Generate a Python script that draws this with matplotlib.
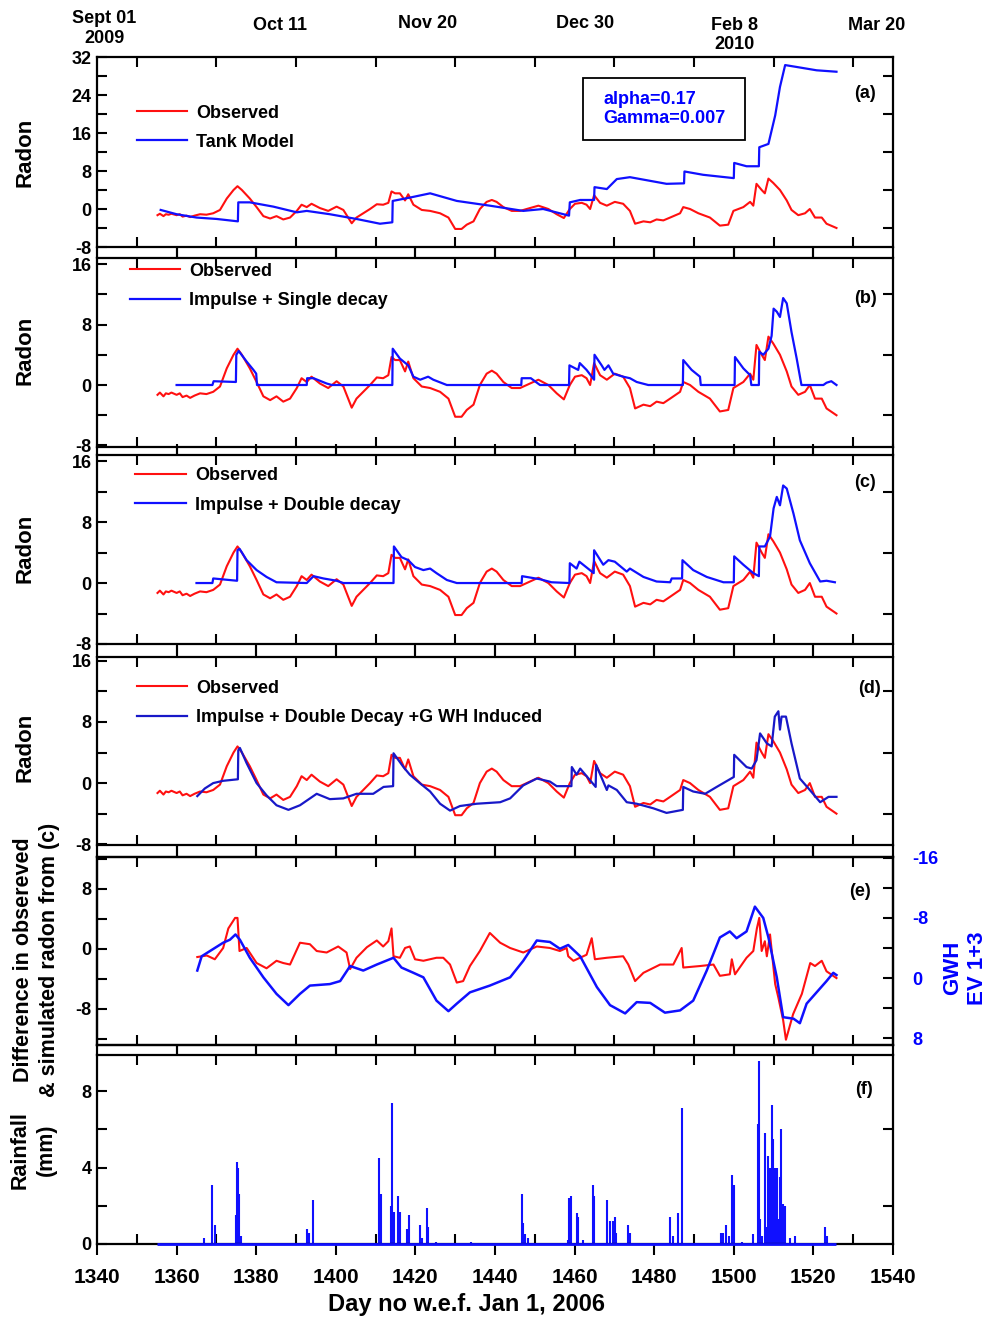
import matplotlib.pyplot as plt
import numpy as np
from matplotlib.ticker import MultipleLocator, FixedLocator
from matplotlib.patches import Rectangle

plt.rcParams['font.family'] = ['Liberation Sans', 'DejaVu Sans']
plt.rcParams['font.weight'] = 'bold'
plt.rcParams['axes.labelweight'] = 'bold'
plt.rcParams['axes.unicode_minus'] = False

# ---- data ----
obs_day = [1355.2, 1355.8, 1356.7, 1357.3, 1358.0, 1358.7, 1360.0, 1360.8, 1361.5, 1362.5,
           1363.4, 1364.5, 1365.9, 1367.5, 1369.2, 1370.9,
           1372.6, 1374.3, 1375.3, 1376.4, 1378.4, 1380.1, 1381.8, 1383.5, 1385.1, 1386.8,
           1388.5, 1390.2, 1391.4, 1392.7, 1393.9, 1396.0, 1398.1, 1400.2, 1401.9, 1403.1,
           1404.0, 1405.2, 1406.9, 1408.6, 1410.3, 1411.9, 1413.2, 1414.0, 1414.9, 1416.1,
           1417.4, 1418.2, 1419.5, 1421.6, 1423.7, 1426.2, 1428.3, 1430.0, 1431.6, 1432.9,
           1434.6, 1436.2, 1437.9, 1439.2, 1440.4, 1442.1, 1444.2, 1446.3, 1448.8, 1450.9,
           1453.4, 1455.5, 1457.3, 1458.8, 1460.1, 1461.8, 1463.0, 1463.9, 1464.9, 1466.4,
           1468.1, 1470.1, 1472.2, 1473.9, 1475.2, 1477.3, 1479.0, 1480.6, 1482.3, 1484.0,
           1486.5, 1487.3, 1489.0, 1491.1, 1494.0, 1496.5, 1498.6, 1499.9, 1502.4, 1504.1,
           1504.9, 1505.7, 1507.0, 1507.8, 1508.7, 1509.9, 1511.6, 1513.3, 1514.5, 1516.2,
           1517.9, 1519.1, 1520.4, 1522.1, 1523.3, 1525.8]
obs_val = [-1.3, -1.0, -1.5, -1.1, -1.2, -1.0, -1.3, -1.1, -1.6, -1.4,
           -1.7, -1.4, -1.1, -1.2, -0.9, -0.2,
           2.2, 4.0, 4.8, 4.0, 2.2, 0.4, -1.5, -2.0, -1.5, -2.2,
           -1.8, -0.4, 0.9, 0.4, 1.1, 0.2, -0.4, 0.5, -0.2, -1.8,
           -3.0, -1.8, -0.9, 0.0, 1.0, 0.9, 1.3, 3.7, 3.3, 3.3,
           1.8, 3.1, 0.9, -0.2, -0.4, -0.9, -1.8, -4.2, -4.2, -3.3,
           -2.6, 0.0, 1.5, 1.9, 1.5, 0.4, -0.4, -0.4, 0.2, 0.7,
           0.0, -1.1, -1.9, 0.0, 1.1, 1.3, 0.9, 0.0, 2.9, 1.3,
           0.7, 1.5, 1.1, -0.4, -3.1, -2.6, -2.8, -2.2, -2.4, -1.8,
           -0.9, 0.4, 0.0, -0.9, -1.8, -3.5, -3.3, -0.4, 0.4, 1.5,
           0.7, 5.3, 4.0, 3.3, 6.4, 5.5, 4.0, 1.8, -0.2, -1.3,
           -0.9, 0.0, -1.8, -1.8, -3.1, -4.0]

tank_day = [1356.0, 1360.0, 1365.0, 1370.1, 1375.4, 1375.5, 1378.4, 1384.3, 1390.2, 1392.7,
            1398.5, 1405.2, 1411.1, 1414.2, 1414.3, 1418.6, 1423.7, 1430.4, 1438.7, 1447.1,
            1452.1, 1458.6, 1458.8, 1461.4, 1464.9, 1465.0, 1468.1, 1470.6, 1473.9, 1483.1,
            1487.5, 1487.6, 1492.3, 1500.0, 1500.1, 1503.2, 1506.3, 1506.4, 1508.7, 1510.4,
            1511.6, 1512.9, 1515.8, 1520.8, 1525.8]
tank_val = [-0.2, -1.1, -1.8, -2.1, -2.6, 1.4, 1.4, 0.5, -0.7, -0.4,
            -1.1, -2.1, -3.1, -2.8, 1.7, 2.4, 3.3, 1.7, 0.7, -0.4,
            0.0, -1.4, 1.4, 1.9, 1.9, 4.6, 4.2, 6.3, 6.7, 5.3,
            5.4, 7.9, 7.2, 6.5, 9.7, 9.0, 9.0, 13.0, 13.7, 19.7,
            25.7, 30.3, 29.9, 29.2, 28.9]

single_day = [1360.0, 1369.0, 1369.3, 1374.9, 1375.0, 1375.6, 1377.6, 1379.3, 1380.0, 1380.2,
              1392.7, 1392.8, 1394.4, 1397.7, 1399.0, 1414.2, 1414.3, 1416.1, 1418.2, 1419.5,
              1421.2, 1423.2, 1424.5, 1427.9, 1446.6, 1446.7, 1449.0, 1451.3, 1458.6, 1458.7,
              1460.9, 1461.3, 1463.0, 1464.9, 1465.0, 1466.8, 1467.5, 1468.5, 1469.7, 1472.2,
              1473.9, 1475.6, 1478.5, 1487.2, 1487.3, 1489.4, 1491.5, 1491.7, 1500.2, 1500.3,
              1502.4, 1504.1, 1504.4, 1506.3, 1506.4, 1507.4, 1508.7, 1509.5, 1510.0, 1510.8,
              1511.6, 1512.4, 1513.3, 1514.5, 1515.8, 1517.0, 1522.5, 1523.3, 1524.5, 1525.8]
single_val = [0.0, 0.0, 0.5, 0.4, 4.0, 4.5, 3.1, 2.0, 1.5, 0.0,
              0.0, 0.9, 0.9, 0.2, 0.0, 0.0, 4.8, 3.5, 2.6, 1.1,
              0.7, 1.1, 0.7, 0.0, 0.0, 0.9, 0.9, 0.0, 0.0, 2.6,
              2.0, 2.9, 2.0, 0.7, 4.0, 2.6, 2.0, 2.6, 1.5, 1.1,
              0.9, 0.4, 0.0, 0.0, 3.3, 2.0, 1.1, 0.0, 0.0, 3.7,
              2.2, 1.3, 0.0, 0.0, 4.4, 4.0, 4.8, 6.5, 10.1, 9.7,
              9.0, 11.5, 10.8, 7.0, 3.5, 0.0, 0.0, 0.3, 0.5, 0.0]

double_day = [1365.0, 1369.0, 1369.2, 1375.2, 1375.3, 1375.8, 1377.6, 1380.1, 1382.6, 1385.1,
              1392.7, 1394.4, 1396.9, 1400.2, 1401.9, 1414.5, 1414.6, 1416.5, 1418.2, 1419.9,
              1422.0, 1423.7, 1425.3, 1427.9, 1430.4, 1446.7, 1446.8, 1451.3, 1454.2, 1458.7,
              1458.8, 1460.5, 1461.2, 1464.8, 1464.9, 1467.2, 1468.5, 1470.1, 1473.1, 1473.9,
              1477.3, 1480.6, 1484.0, 1484.4, 1487.0, 1487.1, 1489.8, 1493.2, 1497.4, 1500.0,
              1500.1, 1502.4, 1504.9, 1506.3, 1506.4, 1507.8, 1509.1, 1510.0, 1510.8, 1511.6,
              1512.4, 1513.3, 1515.0, 1516.6, 1519.1, 1521.7, 1523.3, 1525.4]
double_val = [0.0, 0.0, 0.6, 0.3, 4.3, 4.5, 3.0, 1.7, 0.8, 0.1,
              0.0, 0.9, 0.6, 0.3, 0.0, 0.0, 4.8, 3.4, 3.0, 2.1,
              1.7, 1.9, 1.3, 0.4, 0.0, 0.0, 0.9, 0.5, 0.1, 0.0,
              2.6, 1.9, 2.8, 1.3, 4.3, 2.4, 3.0, 2.8, 1.5, 1.9,
              0.8, 0.2, 0.1, 0.6, 0.6, 3.0, 1.7, 0.8, 0.1, 0.1,
              3.5, 2.4, 1.3, 0.9, 4.8, 4.8, 6.1, 9.8, 11.3, 10.2,
              12.8, 12.4, 9.1, 5.6, 2.6, 0.2, 0.3, 0.1]

gwh_model_day = [1365.2, 1367.1, 1369.2, 1371.7, 1375.4, 1375.5, 1375.9, 1377.6, 1380.1, 1382.6,
                 1385.1, 1388.1, 1391.0, 1395.2, 1398.5, 1401.9, 1405.2, 1409.4, 1412.0, 1414.4,
                 1414.5, 1417.0, 1418.6, 1421.1, 1423.7, 1426.2, 1428.7, 1431.2, 1435.4, 1441.3,
                 1443.8, 1447.1, 1450.5, 1453.8, 1455.5, 1459.2, 1459.3, 1460.5, 1461.4, 1465.3,
                 1465.4, 1468.1, 1468.5, 1470.6, 1473.1, 1475.6, 1479.8, 1483.1, 1487.2, 1487.3,
                 1489.8, 1492.8, 1495.7, 1500.0, 1500.1, 1503.2, 1504.5, 1505.7, 1506.6, 1508.3,
                 1509.5, 1510.3, 1511.2, 1511.6, 1512.0, 1513.1, 1514.5, 1516.6, 1519.1, 1521.7,
                 1523.8, 1525.8]
gwh_model_val = [-1.7, -0.7, 0.0, 0.3, 0.5, 4.3, 4.6, 2.6, 0.0, -1.6,
                 -2.9, -3.5, -2.9, -1.4, -2.1, -2.0, -1.4, -1.4, -0.5, -0.4,
                 3.9, 2.1, 1.1, 0.0, -1.1, -2.7, -3.6, -3.0, -2.7, -2.5,
                 -2.0, -0.3, 0.6, 0.2, -0.4, -0.4, 2.1, 1.1, 1.9, -0.5,
                 2.4, -0.9, -0.3, -0.9, -2.5, -2.7, -3.3, -3.9, -3.5, -0.5,
                 -1.1, -1.4, -0.5, 0.8, 3.7, 2.1, 1.9, 3.0, 6.5, 5.2,
                 4.8, 8.7, 9.4, 7.0, 8.7, 8.7, 5.2, 0.6, -0.9, -2.5,
                 -1.8, -1.8]

diff_day = [1365.2, 1367.6, 1369.6, 1371.7, 1373.0, 1374.7, 1375.3, 1375.8, 1377.6, 1380.1,
            1382.6, 1385.1, 1386.8, 1388.5, 1391.0, 1393.5, 1395.2, 1397.7, 1400.6, 1402.7,
            1403.6, 1405.2, 1407.8, 1410.3, 1411.9, 1413.2, 1414.0, 1414.5, 1416.1, 1417.4,
            1418.6, 1419.9, 1422.0, 1425.3, 1427.0, 1428.7, 1430.4, 1432.0, 1433.7, 1436.2,
            1438.7, 1441.3, 1443.8, 1447.1, 1450.5, 1453.8, 1456.3, 1458.0, 1458.4, 1459.7,
            1463.0, 1464.3, 1465.1, 1468.1, 1472.2, 1473.5, 1475.2, 1477.3, 1481.5, 1484.8,
            1486.9, 1487.3, 1491.5, 1494.9, 1496.5, 1499.0, 1499.5, 1500.3, 1503.2, 1504.9,
            1505.8, 1506.4, 1507.0, 1507.8, 1508.3, 1509.1, 1510.4, 1511.2, 1512.4, 1513.1,
            1514.9, 1517.1, 1519.2, 1520.4, 1522.1, 1523.3, 1525.8]
diff_val = [-1.1, -0.9, -1.4, 0.1, 2.7, 4.1, 4.1, -0.3, 0.1, -1.9,
            -2.6, -1.6, -1.9, -2.1, 0.8, 0.6, -0.3, -0.5, 0.3, -0.5,
            -2.7, -1.2, 0.2, 1.1, 0.3, 1.0, 2.7, -1.0, -1.2, 0.1,
            0.3, -1.4, -1.6, -1.2, -1.2, -2.1, -4.5, -4.3, -2.3, -0.3,
            2.1, 0.8, 0.1, -0.5, 0.3, 0.1, -0.3, 0.1, -1.0, -1.6,
            -0.8, 1.4, -1.4, -1.2, -1.0, -2.1, -4.3, -3.2, -2.1, -2.1,
            0.1, -2.5, -2.3, -2.1, -3.6, -3.4, -1.4, -3.4, -1.2, -0.3,
            2.7, 4.1, -0.3, 1.0, -1.0, 1.9, -4.7, -6.5, -9.5, -12.1,
            -8.7, -6.0, -1.9, -2.3, -1.6, -3.0, -3.9]

gwh_day = [1365.2, 1366.3, 1368.4, 1371.7, 1373.4, 1374.8, 1375.9, 1378.4, 1381.8, 1385.1,
           1388.1, 1391.0, 1393.5, 1398.5, 1401.1, 1403.6, 1406.9, 1410.3, 1414.5, 1416.5,
           1419.5, 1422.0, 1425.3, 1428.3, 1430.4, 1433.7, 1438.7, 1443.8, 1447.1, 1450.5,
           1453.8, 1456.3, 1458.4, 1461.4, 1465.6, 1468.9, 1472.7, 1475.6, 1479.0, 1482.7,
           1486.5, 1489.8, 1493.2, 1496.5, 1499.0, 1500.7, 1503.2, 1505.3, 1507.4, 1508.7,
           1510.8, 1512.4, 1515.0, 1516.6, 1518.3, 1520.8, 1523.3, 1525.0, 1525.8]
gwh_val = [-1.0, -2.9, -3.6, -4.7, -5.1, -5.8, -5.1, -2.7, -0.1, 2.1,
           3.6, 2.1, 1.0, 0.8, 0.4, -1.6, -1.0, -1.8, -2.7, -1.4,
           -0.7, -0.1, 3.0, 4.4, 3.4, 1.9, 1.0, -0.1, -2.3, -5.0,
           -4.8, -3.9, -4.4, -2.9, 1.2, 3.6, 4.7, 3.2, 3.3, 4.6,
           4.3, 3.0, -1.0, -5.4, -6.2, -5.3, -6.2, -9.5, -8.0, -5.4,
           -0.1, 5.2, 5.4, 6.0, 3.4, 1.9, 0.4, -0.7, -0.4]

rain_day = [1366.9, 1368.8, 1369.6, 1374.8, 1375.1, 1375.5, 1375.8, 1376.1, 1392.7, 1393.3,
            1394.2, 1410.9, 1411.3, 1413.8, 1414.1, 1414.5, 1415.6, 1416.1, 1417.8, 1418.5,
            1421.2, 1421.7, 1422.8, 1423.2, 1425.3, 1434.0, 1446.7, 1447.1, 1447.5, 1448.4,
            1458.4, 1458.7, 1459.1, 1460.5, 1460.9, 1462.2, 1464.5, 1464.95, 1468.1, 1468.9,
            1469.6, 1470.1, 1470.4, 1473.5, 1473.9, 1484.0, 1484.6, 1486.1, 1487.1, 1496.8,
            1497.4, 1498.0, 1498.7, 1499.5, 1500.0, 1502.0, 1504.9, 1506.0, 1506.3, 1506.7,
            1507.2, 1507.8, 1508.3, 1508.7, 1509.1, 1509.5, 1509.8, 1510.1, 1510.4, 1510.8,
            1511.2, 1511.6, 1511.9, 1512.4, 1512.8, 1514.1, 1515.4, 1522.9, 1523.3]
rain_mm = [0.3, 3.1, 1.0, 1.5, 4.3, 4.0, 2.6, 0.4, 0.8, 0.6,
           2.3, 4.5, 2.6, 2.0, 7.4, 1.7, 2.5, 1.7, 0.8, 1.5,
           1.0, 0.3, 1.9, 0.9, 0.1, 0.1, 2.6, 1.1, 0.5, 0.3,
           0.2, 2.4, 2.5, 1.6, 1.4, 0.2, 3.1, 2.5, 2.3, 1.2,
           1.2, 1.4, 0.6, 1.0, 0.6, 1.4, 0.4, 1.6, 7.1, 0.6,
           0.6, 1.0, 0.4, 3.6, 3.1, 0.1, 0.5, 6.3, 9.6, 1.3,
           0.4, 5.8, 0.9, 4.6, 4.0, 7.3, 5.5, 4.0, 4.0, 4.0,
           1.3, 3.5, 6.0, 2.1, 2.0, 0.3, 0.4, 0.9, 0.4]

date_labels = ["Sept 01\n2009", "Oct 11", "Nov 20", "Dec 30", "Feb 8\n2010", "Mar 20"]
date_days = [1341.8, 1386.0, 1423.0, 1462.6, 1500.3, 1536.0]

# ---- layout ----
W, H = 987, 1322
fig = plt.figure(figsize=(W / 100, H / 100), dpi=100)
panels_px = [(57, 247), (258, 447), (455, 644), (657, 845), (857, 1045), (1055, 1244)]
axs = []
for top, bot in panels_px:
    axs.append(fig.add_axes([97 / W, 1 - bot / H, 796 / W, (bot - top) / H]))


def setup(ax, ylim, step, first=False, last=False, right_minor=True):
    ax.set_xlim(1340, 1540)
    ax.set_ylim(*ylim)
    ax.xaxis.set_major_locator(MultipleLocator(20))
    ax.xaxis.set_minor_locator(FixedLocator(np.arange(1350, 1540, 20)))
    ax.tick_params(axis='x', which='major', direction='out', length=8, width=1.5,
                   top=not first, bottom=True, labelbottom=last, labelsize=15, pad=9)
    ax.tick_params(axis='x', which='minor', direction='in', length=7, width=1.5,
                   top=True, bottom=True)
    ax.yaxis.set_major_locator(MultipleLocator(step))
    ax.yaxis.set_minor_locator(FixedLocator(np.arange(-40, 40, step) + step / 2))
    ax.tick_params(axis='y', which='major', direction='in', length=7, width=1.5,
                   left=True, right=False, labelsize=13, pad=4)
    ax.tick_params(axis='y', which='minor', direction='in', length=7, width=1.5,
                   left=True, right=right_minor)
    for s in ax.spines.values():
        s.set_linewidth(1.6)


def add_legend(ax, x, y):
    ax.legend(loc='upper left', bbox_to_anchor=(x, y), frameon=False, fontsize=13,
              handlelength=2.8, handletextpad=0.5, labelspacing=0.68,
              borderaxespad=0, borderpad=0)


RED, BLUE = '#ff1010', '#1010ff'

# (a)
ax = axs[0]
setup(ax, (-8, 32), 8, first=True)
ax.plot(obs_day, obs_val, color=RED, lw=1.5, label='Observed')
ax.plot(tank_day, tank_val, color=BLUE, lw=1.6, label='Tank Model')
add_legend(ax, 0.05, 0.75)
ax.add_patch(Rectangle((0.6106, 0.563), 0.2035, 0.326, transform=ax.transAxes,
                       fill=False, ec='black', lw=1.3))
ax.text(0.636, 0.726, 'alpha=0.17\nGamma=0.007', transform=ax.transAxes, ha='left',
        va='center', color='blue', fontsize=13, linespacing=1.2)
ax.text(0.965, 0.81, '(a)', transform=ax.transAxes, ha='center', va='center', fontsize=13)
for lab, d, yy in zip(date_labels, date_days, [1.15, 1.168, 1.175, 1.175, 1.115, 1.165]):
    ax.text(d, yy, lab, transform=ax.get_xaxis_transform(), ha='center', va='center',
            fontsize=13, linespacing=1.2)

# (b)
ax = axs[1]
setup(ax, (-8.2, 16.8), 8)
ax.plot(obs_day, obs_val, color=RED, lw=1.5, label='Observed')
ax.plot(single_day, single_val, color=BLUE, lw=1.6, label='Impulse + Single decay')
add_legend(ax, 0.041, 0.975)
ax.text(0.965, 0.788, '(b)', transform=ax.transAxes, ha='center', va='center', fontsize=13)

# (c)
ax = axs[2]
setup(ax, (-8, 16.8), 8)
ax.plot(obs_day, obs_val, color=RED, lw=1.5, label='Observed')
ax.plot(double_day, double_val, color=BLUE, lw=1.6, label='Impulse + Double decay')
add_legend(ax, 0.048, 0.935)
ax.text(0.965, 0.852, '(c)', transform=ax.transAxes, ha='center', va='center', fontsize=13)

# (d)
ax = axs[3]
setup(ax, (-8.1, 16.5), 8)
ax.plot(obs_day, obs_val, color=RED, lw=1.5, label='Observed')
ax.plot(gwh_model_day, gwh_model_val, color='#1818c8', lw=1.6,
        label='Impulse + Double Decay +G WH Induced')
add_legend(ax, 0.05, 0.88)
ax.text(0.97, 0.835, '(d)', transform=ax.transAxes, ha='center', va='center', fontsize=13)

# (e)
ax = axs[4]
setup(ax, (-12.8, 12.2), 8, right_minor=False)
ax.plot(diff_day, diff_val, color=RED, lw=1.5)
ax2 = ax.twinx()
ax2.set_position(ax.get_position())
ax2.plot(gwh_day, gwh_val, color=BLUE, lw=1.8)
ax2.set_ylim(8.9, -16.1)
ax2.yaxis.set_major_locator(MultipleLocator(8))
ax2.yaxis.set_minor_locator(FixedLocator([-12, -4, 4]))
ax2.tick_params(axis='y', which='both', direction='in', length=7, width=1.5,
                labelsize=13, labelcolor='blue', pad=14)
for s in ax2.spines.values():
    s.set_linewidth(1.6)
ax.text(0.958, 0.814, '(e)', transform=ax.transAxes, ha='center', va='center', fontsize=13)

# (f)
ax = axs[5]
setup(ax, (0, 9.9), 4, last=True)
ax.vlines(rain_day, 0, rain_mm, color=BLUE, lw=1.5)
ax.hlines(0, obs_day[0], obs_day[-1], color=BLUE, lw=2, clip_on=False, zorder=5)
ax.text(0.964, 0.815, '(f)', transform=ax.transAxes, ha='center', va='center', fontsize=13)
ax.set_xlabel('Day no w.e.f. Jan 1, 2006', fontsize=17, fontweight='bold', labelpad=8)
ax.xaxis.set_label_coords((467 - 97) / 796, -0.26)

# axis titles
for yc in [152, 350, 548, 747]:
    fig.text(25 / W, 1 - yc / H, 'Radon', rotation=90, ha='center', va='center', fontsize=16)
fig.text(24 / W, 1 - 960 / H, 'Difference in obsereved', rotation=90, ha='center',
         va='center', fontsize=15.5)
fig.text(50 / W, 1 - 960 / H, '& simulated radon from (c)', rotation=90, ha='center',
         va='center', fontsize=15.5)
fig.text(20 / W, 1 - 1150 / H, 'Rainfall', rotation=90, ha='center', va='center', fontsize=15.5)
fig.text(46 / W, 1 - 1150 / H, '(mm)', rotation=90, ha='center', va='center', fontsize=15.5)
fig.text(953 / W, 1 - 968 / H, 'GWH', rotation=90, ha='center', va='center', fontsize=16,
         color='blue')
fig.text(978 / W, 1 - 968 / H, 'EV 1+3', rotation=90, ha='center', va='center', fontsize=16,
         color='blue')

fig.savefig('out.png', dpi=100, facecolor='white')
